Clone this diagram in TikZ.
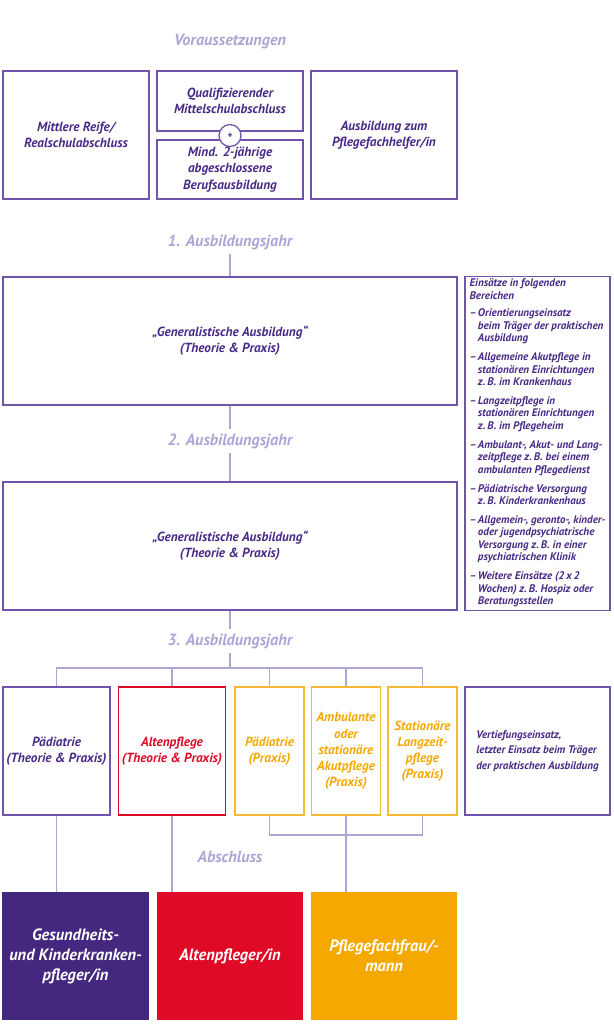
\documentclass[tikz,border=0pt]{standalone}
\usepackage{fontspec}
\setmainfont{PT Sans}
\newfontfamily\boxfont{PT Sans Bold Italic}
\usetikzlibrary{positioning}
\definecolor{deeppurple}{RGB}{72,42,135}
\definecolor{linepurple}{RGB}{112,84,172}
\definecolor{lavender}{RGB}{176,164,212}
\definecolor{carmine}{RGB}{222,10,38}
\definecolor{amber}{RGB}{245,168,0}
\definecolor{finalpurple}{RGB}{68,40,128}
\newcommand{\einsatz}[1]{\\[4.6pt]\makebox[0.75em][l]{–}\begin{tabular}[t]{@{}l@{}}#1\end{tabular}}

\begin{document}
\begin{tikzpicture}[
        x=0.03cm, y=-0.03cm,
        box/.style={
            rectangle,
            draw=linepurple,
            line width=1.1pt,
            text=deeppurple,
            font=\boxfont\fontsize{11.3}{13.8}\selectfont,
            align=center,
            inner sep=2pt
        },
        bigbox/.style={box, minimum width=4.38cm, minimum height=3.84cm},
        smallbox/.style={box, minimum width=3.21cm, minimum height=3.84cm},
        narrowbox/.style={box, draw=amber!80, text=amber, minimum width=2.07cm, minimum height=3.84cm},
        sidebox/.style={box, minimum width=4.35cm, align=left,
            font=\boxfont\fontsize{9.4}{10.6}\selectfont},
        heading/.style={
            text=lavender,
            font=\boxfont\fontsize{13.8}{16}\selectfont
        },
        final/.style={
            rectangle,
            minimum width=4.38cm,
            minimum height=3.84cm,
            text=white,
            font=\boxfont\fontsize{14}{17}\selectfont,
            align=center
        },
        link/.style={
            draw=lavender,
            line width=1.1pt
        }
    ]
    \useasboundingbox (0,0) rectangle (614,1024);

    % Voraussetzungen
    \node[heading] (prereq) at (230,42) {Voraussetzungen};
    \node[bigbox] (reife) at (76,135) {Mittlere Reife/\\Realschulabschluss};
    \node[box, minimum width=4.38cm, minimum height=1.8cm] (quali) at (230,101) {Qualifizierender\\Mittelschulabschluss};
    \node[box, minimum width=4.38cm, minimum height=1.77cm] (beruf) at (230,169.5) {Mind. 2-jährige\\abgeschlossene\\Berufsausbildung};
    \node[circle, draw=linepurple, line width=1.1pt, fill=white, minimum size=0.66cm, inner sep=0pt,
          text=deeppurple, font=\footnotesize\bfseries] (plus) at (230,135.5) {+};
    \node[bigbox] (helfer) at (384,135) {Ausbildung zum\\Pflegefachhelfer/in};

    % 1. Ausbildungsjahr
    \node[heading] (year1) at (230,242) {1. Ausbildungsjahr};
    \node[box, minimum width=13.62cm, minimum height=3.84cm] (gen1) at (230,341) {„Generalistische Ausbildung“\\(Theorie \& Praxis)};

    % 2. Ausbildungsjahr
    \node[heading] (year2) at (230,441) {2. Ausbildungsjahr};
    \node[box, minimum width=13.62cm, minimum height=3.84cm] (gen2) at (230,546) {„Generalistische Ausbildung“\\(Theorie \& Praxis)};

    % Einsaetze (right column)
    \node[sidebox, minimum height=9.99cm] (einsatz) at (537.5,443.5) {%
        Einsätze in folgenden\\Bereichen
        \einsatz{Orientierungseinsatz\\beim Träger der praktischen\\Ausbildung}
        \einsatz{Allgemeine Akutpflege in\\stationären Einrichtungen\\z.\,B. im Krankenhaus}
        \einsatz{Langzeitpflege in\\stationären Einrichtungen\\z.\,B. im Pflegeheim}
        \einsatz{Ambulant-, Akut- und Lang-\\zeitpflege z.\,B. bei einem\\ambulanten Pflegedienst}
        \einsatz{Pädiatrische Versorgung\\z.\,B. Kinderkrankenhaus}
        \einsatz{Allgemein-, geronto-, kinder-\\oder jugendpsychiatrische\\Versorgung z.\,B. in einer\\psychiatrischen Klinik}
        \einsatz{Weitere Einsätze (2\,x\,2\\Wochen) z.\,B. Hospiz oder\\Beratungsstellen}};

    % 3. Ausbildungsjahr
    \node[heading] (year3) at (230,641) {3. Ausbildungsjahr};
    \coordinate (split) at (230,668);
    \node[smallbox] (paed) at (56.5,751) {Pädiatrie\\(Theorie \& Praxis)};
    \node[smallbox, draw=carmine, text=carmine] (alten) at (172,751) {Altenpflege\\(Theorie \& Praxis)};
    \node[narrowbox] (paedpr) at (269.5,751) {Pädiatrie\\(Praxis)};
    \node[narrowbox] (ambu) at (346,751) {Ambulante\\oder\\stationäre\\Akutpflege\\(Praxis)};
    \node[narrowbox] (stat) at (422.5,751) {Stationäre\\Langzeit-\\pflege\\(Praxis)};
    \node[sidebox, minimum height=3.84cm, font=\boxfont\fontsize{9.4}{13}\selectfont] (vertief) at (537.5,751) {Vertiefungseinsatz,\\letzter Einsatz beim Träger\\der praktischen Ausbildung};

    % Abschluss
    \node[heading] (finish) at (230,857) {Abschluss};
    \coordinate (join) at (346,835);
    \node[final, fill=finalpurple] (gkp) at (75.5,956) {Gesundheits-\\und Kinderkranken-\\pfleger/in};
    \node[final, fill=carmine] (ap) at (230,956) {Altenpfleger/in};
    \node[final, fill=amber] (pfk) at (384,956) {Pflegefachfrau/-\\mann};

    % Connectors
    \draw[link] (year1) -- (gen1);
    \draw[link] (gen1) -- (year2);
    \draw[link] (year2) -- (gen2);
    \draw[link] (gen2) -- (year3);
    \draw[link] (year3) -- (split);
    \draw[link] (paed.north) |- (split) -| (stat.north);
    \foreach \n in {alten, paedpr, ambu}
        \draw[link] (\n.north) -- (\n.north |- split);
    \draw[link] (paed.south) -- (paed.south |- gkp.north);
    \draw[link] (alten.south) -- (alten.south |- ap.north);
    \draw[link] (paedpr.south) |- (join) -| (stat.south);
    \draw[link] (ambu.south) -- (ambu.south |- pfk.north);

\end{tikzpicture}
\end{document}
